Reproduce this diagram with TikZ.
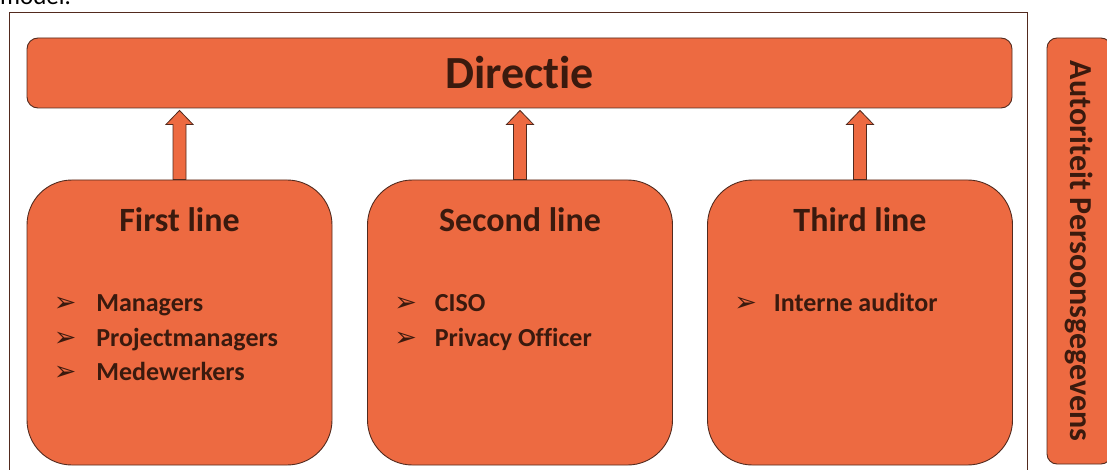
\documentclass[tikz,border=0pt]{standalone}
\usepackage{fontspec}
\setmainfont[Ligatures=NoCommon]{Carlito}
\newfontfamily\symbolfont{DejaVu Sans}
\usetikzlibrary{calc}
\definecolor{boxfill}{RGB}{237,106,65}
\definecolor{boxline}{RGB}{82,42,30}
\definecolor{boxtext}{RGB}{58,26,14}
\newcommand{\bul}{{\symbolfont\fontsize{27}{20}\selectfont ➢}}
% block arrow from the top of box #1 up to the bar #2
\newcommand{\liftarrow}[2]{%
  \draw[liftarrow] ($(#1.north)+(-6.5,0)$) -- ($(#1.north |- #2.south)+(-6.5,-16)$)
    -- ++(-7,0) -- ($(#1.north |- #2.south)+(0,-2)$)
    -- ($(#1.north |- #2.south)+(13.5,-16)$) -- ++(-7,0)
    -- ($(#1.north)+(6.5,0)$) -- cycle;}
\tikzset{
  panel/.style={draw=boxline, fill=boxfill, line width=0.9pt, text=boxtext},
  linebox/.style={panel, rounded corners=45pt, minimum width=305pt, minimum height=285pt},
  linetitle/.style={anchor=base, text=boxtext, font=\bfseries\fontsize{34}{36}\selectfont},
  itemlist/.style={anchor=base west, inner sep=0pt, text=boxtext, font=\bfseries\fontsize{26}{34.5}\selectfont},
  liftarrow/.style={draw=boxline, fill=boxfill, line width=0.8pt}
}
\begin{document}
\begin{tikzpicture}[x=1pt,y=1pt]
\useasboundingbox (0,0) rectangle (1107,469);
\node[anchor=base west, inner sep=0pt, font=\fontsize{25}{27}\selectfont] (caption) at (0,464) {model.};
\draw[boxline, line width=0.8pt] (9,-5) -- (9,457) -- (1027,457) -- (1027,-5);

\node[panel, rounded corners=11pt, minimum width=985pt, minimum height=70pt,
      font=\bfseries\fontsize{46}{50}\selectfont] (directie) at (519.5,396) {Directie};

\node[linebox] (first) at (179.5,146.5) {};
\node[linebox] (second) at (520,146.5) {};
\node[linebox] (third) at (860,146.5) {};

\node[linetitle] (firsttitle) at ($(first.north)+(0,-52)$) {First line};
\node[linetitle] (secondtitle) at ($(second.north)+(0,-52)$) {Second line};
\node[linetitle] (thirdtitle) at ($(third.north)+(0,-52)$) {Third line};

\node[itemlist] (firstlist) at ($(first.north west)+(27,-132)$) {%
  \begin{tabular}[t]{@{}l@{\hspace{20pt}}l@{}}
  \bul & Managers\\ \bul & Projectmanagers\\ \bul & Medewerkers
  \end{tabular}};
\node[itemlist] (secondlist) at ($(second.north west)+(27,-132)$) {%
  \begin{tabular}[t]{@{}l@{\hspace{18pt}}l@{}}
  \bul & CISO\\ \bul & Privacy Officer
  \end{tabular}};
\node[itemlist] (thirdlist) at ($(third.north west)+(27,-132)$) {%
  \begin{tabular}[t]{@{}l@{\hspace{17pt}}l@{}}
  \bul & Interne auditor
  \end{tabular}};

\liftarrow{first}{directie}
\liftarrow{second}{directie}
\liftarrow{third}{directie}

\node[panel, rounded corners=10pt, rotate=-90, minimum width=426pt, minimum height=64pt,
      font=\bfseries\fontsize{32}{34}\selectfont] (autoriteit) at (1079,218) {Autoriteit Persoonsgegevens};
\end{tikzpicture}
\end{document}
